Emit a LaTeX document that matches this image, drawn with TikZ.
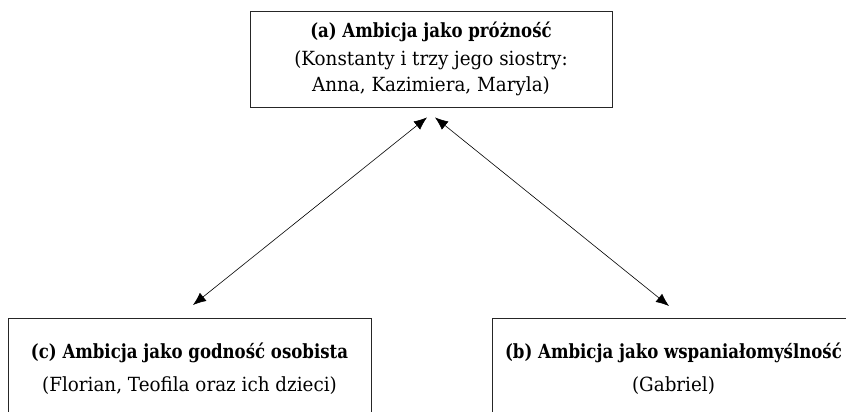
\documentclass[tikz,border=0pt]{standalone}
\usepackage{fontspec}
\setmainfont{DejaVu Serif}[FakeStretch=0.94]
\newfontfamily\headfont{DejaVu Serif}[FakeStretch=0.85]
\usepackage{tikz}
\usetikzlibrary{arrows.meta}

\begin{document}
\begin{tikzpicture}[x=1pt,y=-1pt,
	ambbox/.style={draw=black!85,line width=0.8pt,align=center,inner sep=0pt,
		font=\fontsize{19.5}{25.5}\selectfont},
	twoway/.style={{Latex[length=13pt,width=10.5pt]}-{Latex[length=13pt,width=10.5pt]},line width=0.6pt}]
	\useasboundingbox (0,0) rectangle (846,412);
	\clip (0,0) rectangle (846,412);

	% top box - (a)
\node[ambbox,minimum width=362pt,minimum height=96pt] (nodeA) at (431,59)
	{{\headfont\bfseries (a) Ambicja jako próżność}\\[2.5pt]
	(Konstanty i trzy jego siostry:\\Anna, Kazimiera, Maryla)};
	% bottom boxes - (c) and (b)
\node[ambbox,anchor=north,minimum width=363pt,minimum height=101pt] (nodeC) at (189.5,318)
	{{\headfont\bfseries (c) Ambicja jako godność osobista}\\[7.5pt]
	(Florian, Teofila oraz ich dzieci)};
\node[ambbox,anchor=north,minimum width=363pt,minimum height=101pt] (nodeB) at (673.5,318)
	{{\headfont\bfseries (b) Ambicja jako wspaniałomyślność}\\[7.5pt]
	(Gabriel)};

\draw[twoway] ([xshift=-4pt,yshift=-10pt]nodeA.south) -- ([xshift=3.5pt,yshift=13pt]nodeC.north);
\draw[twoway] ([xshift=4pt,yshift=-10pt]nodeA.south) -- ([xshift=-4.5pt,yshift=12pt]nodeB.north);
\end{tikzpicture}
\end{document}
